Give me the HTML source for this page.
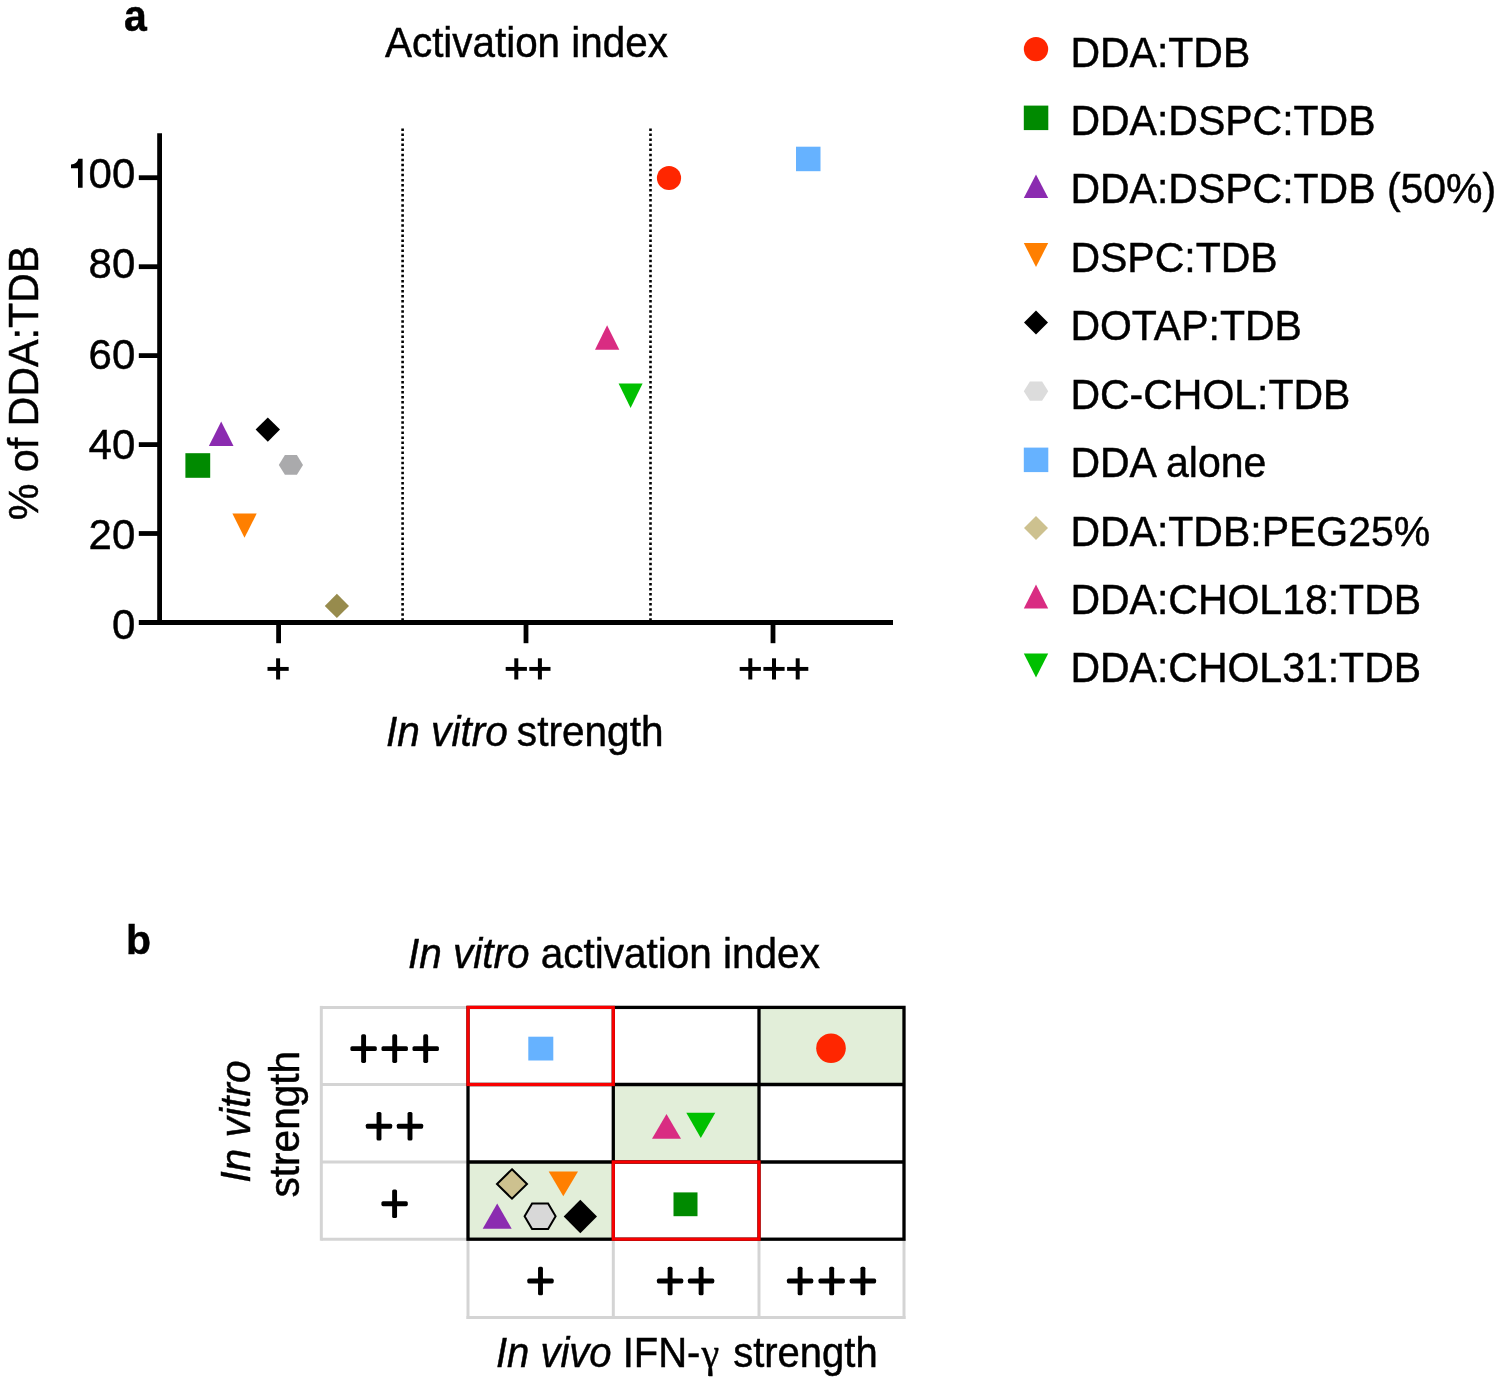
<!DOCTYPE html>
<html><head><meta charset="utf-8">
<style>
html,body{margin:0;padding:0;background:#fff;}
body{width:1499px;height:1386px;overflow:hidden;}
svg{display:block;will-change:transform;}
text{font-family:"Liberation Sans",sans-serif;fill:#000;stroke:#000;stroke-width:0.45px;}
</style></head>
<body>
<svg width="1499" height="1386" viewBox="0 0 1499 1386">
<rect width="1499" height="1386" fill="#fff"/>

<text transform="translate(124,30.8) scale(1.0,1.07)" font-size="41" font-weight="bold">a</text>
<text transform="translate(385,57.2) scale(1.0,1.05)" font-size="40.4">Activation index</text>
<text transform="translate(38.1,383) rotate(-90) scale(1.0,1.05)" font-size="41.2" text-anchor="middle">% of DDA:TDB</text>
<g stroke="#000" stroke-width="4.8" fill="none">
<line x1="159.6" y1="133.2" x2="159.6" y2="624.9"/>
<line x1="138.8" y1="622.5" x2="893" y2="622.5"/>
<line x1="138.8" y1="533.5" x2="159.6" y2="533.5"/>
<line x1="138.8" y1="444.6" x2="159.6" y2="444.6"/>
<line x1="138.8" y1="355.6" x2="159.6" y2="355.6"/>
<line x1="138.8" y1="266.7" x2="159.6" y2="266.7"/>
<line x1="138.8" y1="177.7" x2="159.6" y2="177.7"/>
<line x1="278.6" y1="622.5" x2="278.6" y2="643.2"/>
<line x1="526" y1="622.5" x2="526" y2="643.2"/>
<line x1="773" y1="622.5" x2="773" y2="643.2"/>
</g>
<g stroke="#000" stroke-width="2.6" stroke-dasharray="2.5 2.55" fill="none">
<line x1="402.6" y1="128.4" x2="402.6" y2="620"/>
<line x1="650.5" y1="128.4" x2="650.5" y2="620"/>
</g>
<text transform="translate(135.3,188.2)" font-size="42" text-anchor="end">00</text>
<path d="M82.6,158.8 L78.4,158.8 C77.6,162.2 75.2,164.2 71,164.6 L71,168.2 L78,168.2 L78,187.8 L82.6,187.8 Z" fill="#000"/>
<text transform="translate(135.3,278.4)" font-size="42" text-anchor="end">80</text>
<text transform="translate(135.3,368.6)" font-size="42" text-anchor="end">60</text>
<text transform="translate(135.3,458.8)" font-size="42" text-anchor="end">40</text>
<text transform="translate(135.3,549.0)" font-size="42" text-anchor="end">20</text>
<text transform="translate(135.3,639.2)" font-size="42" text-anchor="end">0</text>
<defs><g id="pa"><rect x="-10.6" y="-1.95" width="21.2" height="3.9"/><rect x="-2" y="-10.6" width="4" height="21.2"/></g></defs>
<use href="#pa" x="278.1" y="668.9"/>
<use href="#pa" x="516.3" y="668.9"/>
<use href="#pa" x="539.9" y="668.9"/>
<use href="#pa" x="750.3" y="668.9"/>
<use href="#pa" x="774" y="668.9"/>
<use href="#pa" x="797.7" y="668.9"/>
<text transform="translate(386,746.3) scale(1.0,1.05)" font-size="40.6"><tspan font-style="italic">In vitro</tspan><tspan dx="-2.2"> strength</tspan></text>
<rect x="185.4" y="453.2" width="24.8" height="24.6" fill="#008a00"/>
<polygon points="208.9,445.9 233.5,445.9 221.2,421.4" fill="#8b2bb0"/>
<polygon points="267.8,417.5 280,429.6 267.8,441.7 255.6,429.6" fill="#000"/>
<polygon points="278.8,464.9 284.9,455.1 296.9,455.1 303,464.9 296.9,474.8 284.9,474.8" fill="#aaaaac"/>
<polygon points="232.4,513.5 256.7,513.5 244.5,537.8" fill="#ff7f00"/>
<polygon points="336.9,593.8 349,605.9 336.9,617.9 324.8,605.9" fill="#978b4d"/>
<circle cx="669" cy="178" r="12.1" fill="#ff2600"/>
<rect x="796" y="146.7" width="24.5" height="24.5" fill="#66b2ff"/>
<polygon points="595,349.7 619.3,349.7 607.1,325.2" fill="#d92c82"/>
<polygon points="618.6,383.6 642.6,383.6 630.6,407.9" fill="#00c000"/>
<g transform="translate(0.4,0.6)">
<text transform="translate(1070,66.0) scale(1.0,1.05)" font-size="41">DDA:TDB</text>
<text transform="translate(1070,134.4) scale(1.0,1.05)" font-size="41">DDA:DSPC:TDB</text>
<text transform="translate(1070,202.8) scale(1.0,1.05)" font-size="41">DDA:DSPC:TDB (50%)</text>
<text transform="translate(1070,271.2) scale(1.0,1.05)" font-size="41">DSPC:TDB</text>
<text transform="translate(1070,339.6) scale(1.0,1.05)" font-size="41">DOTAP:TDB</text>
<text transform="translate(1070,408.0) scale(1.0,1.05)" font-size="41">DC-CHOL:TDB</text>
<text transform="translate(1070,476.5) scale(1.0,1.05)" font-size="41">DDA alone</text>
<text transform="translate(1070,544.9) scale(1.0,1.05)" font-size="41">DDA:TDB:PEG25%</text>
<text transform="translate(1070,613.3) scale(1.0,1.05)" font-size="41">DDA:CHOL18:TDB</text>
<text transform="translate(1070,681.7) scale(1.0,1.05)" font-size="41">DDA:CHOL31:TDB</text>
<circle cx="1035.6" cy="48.5" r="12.2" fill="#ff2600"/>
<rect x="1023.4" y="105" width="24.5" height="24.5" fill="#008a00"/>
<polygon points="1023.4,197.4 1047.8,197.4 1035.6,174" fill="#8b2bb0"/>
<polygon points="1023.4,242.4 1047.8,242.4 1035.6,266.5" fill="#ff7f00"/>
<polygon points="1035.6,310 1047.6,322 1035.6,334 1023.6,322" fill="#000"/>
<polygon points="1023.4,390.6 1029.5,381 1041.7,381 1047.8,390.6 1041.7,400.2 1029.5,400.2" fill="#dcdcdc"/>
<rect x="1023.4" y="447" width="24.5" height="24.5" fill="#66b2ff"/>
<polygon points="1035.6,515.4 1047.6,527.4 1035.6,539.4 1023.6,527.4" fill="#cdc18f"/>
<polygon points="1023.4,608 1047.8,608 1035.6,584" fill="#d92c82"/>
<polygon points="1023.4,653 1047.8,653 1035.6,677" fill="#00c000"/>
</g>
<text transform="translate(126,953.8)" font-size="41" font-weight="bold">b</text>
<text transform="translate(408,968.2) scale(1.0,1.05)" font-size="40.5"><tspan font-style="italic">In vitro</tspan> activation index</text>
<g fill="#e2eed9">
<rect x="759" y="1007.4" width="145.0" height="77.1"/>
<rect x="613.3" y="1084.5" width="145.7" height="77.5"/>
<rect x="468" y="1162" width="145.3" height="77.2"/>
</g>
<g stroke="#d4d4d4" stroke-width="3" fill="none">
<line x1="321.3" y1="1007.4" x2="468" y2="1007.4"/>
<line x1="321.3" y1="1084.5" x2="468" y2="1084.5"/>
<line x1="321.3" y1="1162" x2="468" y2="1162"/>
<line x1="321.3" y1="1239.2" x2="468" y2="1239.2"/>
<line x1="321.3" y1="1005.9" x2="321.3" y2="1240.7"/>
<line x1="468" y1="1239.2" x2="468" y2="1319.0"/>
<line x1="613.3" y1="1239.2" x2="613.3" y2="1319.0"/>
<line x1="759" y1="1239.2" x2="759" y2="1319.0"/>
<line x1="904" y1="1239.2" x2="904" y2="1319.0"/>
<line x1="466.5" y1="1317.5" x2="905.5" y2="1317.5"/>
</g>
<g stroke="#000" stroke-width="3.3" fill="none">
<rect x="468" y="1007.4" width="436.0" height="231.8"/>
<line x1="468" y1="1084.5" x2="904" y2="1084.5"/>
<line x1="468" y1="1162" x2="904" y2="1162"/>
<line x1="613.3" y1="1007.4" x2="613.3" y2="1239.2"/>
<line x1="759" y1="1007.4" x2="759" y2="1239.2"/>
</g>
<g stroke="#f80000" stroke-width="3.2" fill="none">
<rect x="468" y="1007.4" width="145.3" height="77.1"/>
<rect x="613.3" y="1162" width="145.7" height="77.2"/>
</g>
<defs><g id="pl"><rect x="-13.2" y="-2.45" width="26.4" height="4.9" rx="1.6"/><rect x="-2.45" y="-14.3" width="4.9" height="28.6" rx="1.6"/></g></defs>
<use href="#pl" x="363.6" y="1048.6"/>
<use href="#pl" x="394.7" y="1048.6"/>
<use href="#pl" x="425.7" y="1048.6"/>
<use href="#pl" x="379" y="1126.2"/>
<use href="#pl" x="410" y="1126.2"/>
<use href="#pl" x="394.6" y="1203.7"/>
<use href="#pl" x="540.5" y="1281"/>
<use href="#pl" x="670.1" y="1281"/>
<use href="#pl" x="701.1" y="1281"/>
<use href="#pl" x="800.1" y="1281"/>
<use href="#pl" x="831.7" y="1281"/>
<use href="#pl" x="862.9" y="1281"/>
<text transform="translate(249.8,1121.6) rotate(-90) scale(1.0,1.05)" font-size="40.8" text-anchor="middle" font-style="italic">In vitro</text>
<text transform="translate(299.2,1124.2) rotate(-90) scale(1.0,1.05)" font-size="40.6" text-anchor="middle">strength</text>
<text transform="translate(496,1367.3) scale(1.0,1.05)" font-size="40"><tspan font-style="italic">In vivo</tspan> IFN-<tspan font-family="Liberation Serif" font-size="40" dx="1">γ</tspan><tspan dx="3"> strength</tspan></text>
<circle cx="831" cy="1048.3" r="14.8" fill="#ff2600"/>
<rect x="528.3" y="1036.7" width="25" height="23.8" fill="#66b2ff"/>
<polygon points="652,1138.7 681,1138.7 666.5,1114" fill="#d92c82"/>
<polygon points="686.3,1112.7 715.3,1112.7 700.8,1138" fill="#00c000"/>
<rect x="673.5" y="1192.4" width="24" height="23.8" fill="#008a00"/>
<polygon points="512,1169.3 527,1184 512,1198.7 497,1184" fill="#cdc18f" stroke="#000" stroke-width="2"/>
<polygon points="548.7,1171.4 578,1171.4 563.3,1196.3" fill="#ff7f00"/>
<polygon points="482.7,1228.8 511.7,1228.8 497.2,1203.5" fill="#8b2bb0"/>
<polygon points="524.6,1216.3 532.1,1203.6 548.1,1203.6 555.6,1216.3 548.1,1229 532.1,1229" fill="#d8d8d8" stroke="#000" stroke-width="2"/>
<polygon points="580.3,1199.8 597,1216.5 580.3,1233.2 563.7,1216.5" fill="#000"/>
</svg>
</body></html>
